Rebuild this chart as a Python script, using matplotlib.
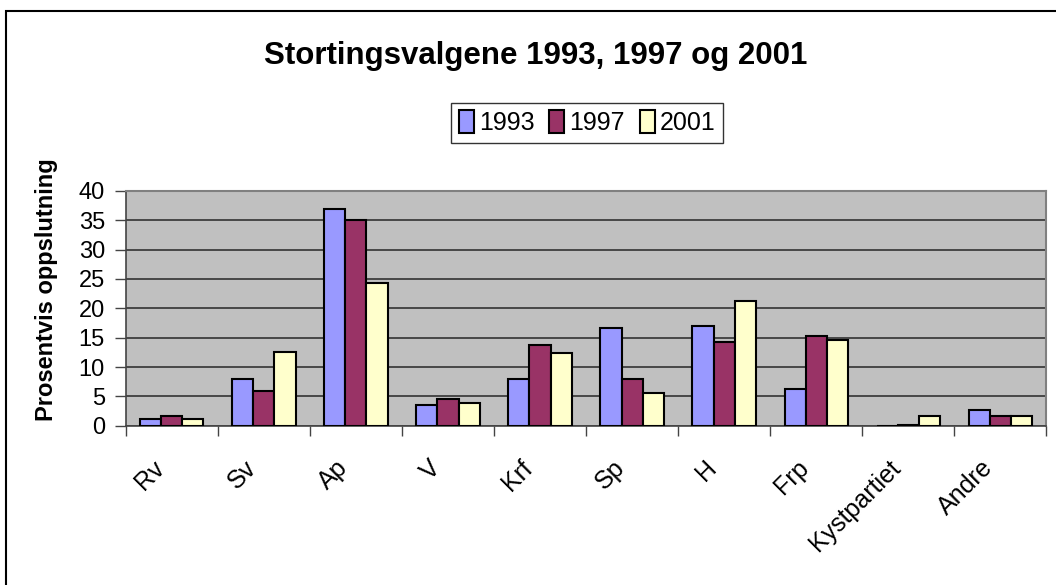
import numpy as np
import matplotlib.pyplot as plt
from matplotlib.patches import Rectangle
from matplotlib.transforms import ScaledTranslation

parties = ["Rv", "Sv", "Ap", "V", "Krf", "Sp", "H", "Frp", "Kystpartiet", "Andre"]
years = ["1993", "1997", "2001"]
v1993 = [1.1, 7.9, 36.9, 3.6, 7.9, 16.7, 17.0, 6.3, 0.0, 2.7]
v1997 = [1.7, 6.0, 35.0, 4.5, 13.7, 7.9, 14.3, 15.3, 0.2, 1.7]
v2001 = [1.2, 12.5, 24.3, 3.9, 12.4, 5.6, 21.2, 14.6, 1.7, 1.6]
colors = ["#9999FF", "#993366", "#FFFFCC"]

plt.rcParams["font.family"] = ["Liberation Sans", "DejaVu Sans"]

fig = plt.figure(figsize=(10.56, 5.85), dpi=100)
ax = fig.add_axes([0.119, 0.272, 0.872, 0.402])

x = np.arange(len(parties))
w = 0.23
for i, (vals, yr) in enumerate(zip([v1993, v1997, v2001], years)):
    ax.bar(x + (i - 1) * w, vals, width=w, color=colors[i], edgecolor="black",
           linewidth=1.5, label=yr, zorder=3)

ax.set_facecolor("#C0C0C0")
ax.set_xlim(-0.5, len(parties) - 0.5)
ax.set_ylim(0, 40)
ax.set_yticks(range(0, 41, 5))
ax.yaxis.grid(True, color="#333333", linewidth=1.2, zorder=1)
ax.tick_params(axis="y", labelsize=17, length=8, color="#444444", width=1, pad=7)

ax.set_xticks(x)
ax.set_xticklabels(parties, rotation=45, ha="right", va="top",
                   rotation_mode="anchor", fontsize=18)
ax.tick_params(axis="x", which="major", length=0, pad=20)
shift = ScaledTranslation(-0.2, -0.02, fig.dpi_scale_trans)
for lbl in ax.get_xticklabels():
    lbl.set_transform(lbl.get_transform() + shift)
ax.set_xticks(np.arange(-0.5, len(parties), 1), minor=True)
ax.tick_params(axis="x", which="minor", length=7, color="#444444", width=1)

for s in ["left", "bottom"]:
    ax.spines[s].set_color("#444444")
    ax.spines[s].set_linewidth(1.2)
for s in ["right", "top"]:
    ax.spines[s].set_color("#808080")
    ax.spines[s].set_linewidth(1.5)

ax.set_ylabel("Prosentvis oppslutning", fontsize=17, fontweight="bold")
ax.yaxis.set_label_coords(-0.074, 0.58)

fig.text(0.507, 0.905, "Stortingsvalgene 1993, 1997 og 2001", ha="center",
         va="center", fontsize=22.5, fontweight="bold")

leg = fig.legend(loc="center", bbox_to_anchor=(0.556, 0.79), ncol=3, fontsize=18,
                 frameon=True, fancybox=False, edgecolor="black",
                 handlelength=0.6, handleheight=1.0, handletextpad=0.2,
                 columnspacing=0.6, borderpad=0.3)
leg.get_frame().set_linewidth(1.0)

fig.patches.append(Rectangle((0.006, -0.1), 1.2, 1.1 - 11 / 585,
                             transform=fig.transFigure, fill=False,
                             edgecolor="black", linewidth=1.5))

fig.savefig("out.png", dpi=100)
